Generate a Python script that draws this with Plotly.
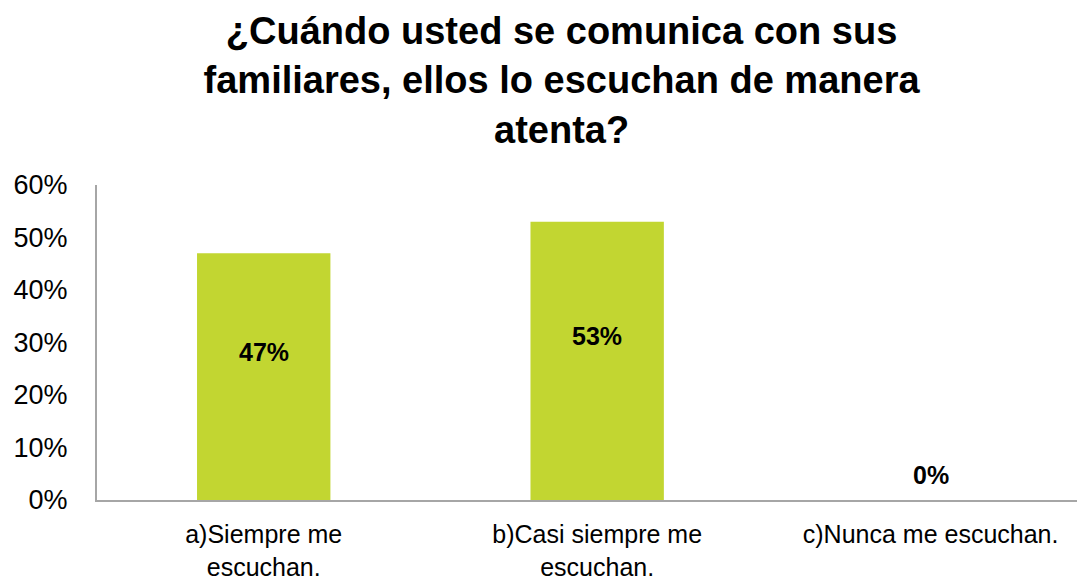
import plotly.graph_objects as go

categories = ["a)Siempre me<br>escuchan.", "b)Casi siempre me<br>escuchan.", "c)Nunca me escuchan."]
shares = [0.47, 0.53, 0.0]
bar_labels = ["47%", "53%", "0%"]
y_ticks = [0, 0.1, 0.2, 0.3, 0.4, 0.5, 0.6]

BAR_GREEN = "#C2D631"
AXIS_GREY = "#A6A6A6"
FONT = "Liberation Sans, Arial, sans-serif"

fig = go.Figure()
fig.add_trace(go.Bar(x=categories, y=shares, width=0.4,
                     marker=dict(color=BAR_GREEN, line=dict(width=0)),
                     hoverinfo="skip"))

# data labels sit a bit above the middle of each bar (0% sits above the axis)
for cat, v, lab in zip(categories, shares, bar_labels):
    fig.add_annotation(x=cat, y=v / 2, text=f"<b>{lab}</b>", showarrow=False,
                       yshift=25, font=dict(size=25, color="black", family=FONT))

# page body has an 8px margin, so the figure is sized to 1077x573
fig.update_layout(
    width=1077, height=573,
    paper_bgcolor="white", plot_bgcolor="white",
    margin=dict(l=89, r=0, t=177, b=79),
    showlegend=False,
    font=dict(family=FONT, color="black"),
    title=dict(text="<b>¿Cuándo usted se comunica con sus<br>familiares, ellos lo escuchan de manera<br>atenta?</b>",
               x=0.514, xanchor="center", y=0.937, yanchor="middle",
               font=dict(size=38, family=FONT, color="black")),
)
fig.update_xaxes(range=[-0.5, 2.463], showline=True, linecolor=AXIS_GREY, linewidth=2,
                 ticks="", showgrid=False, tickfont=dict(size=25, color="black"),
                 ticklabelstandoff=11)
fig.update_yaxes(range=[0, 0.6], tickvals=y_ticks, tickformat=".0%", showline=True,
                 linecolor=AXIS_GREY, linewidth=2, ticks="", showgrid=False, zeroline=False,
                 tickfont=dict(size=27, color="black"), ticklabelstandoff=22)

fig.write_html("out.html")
